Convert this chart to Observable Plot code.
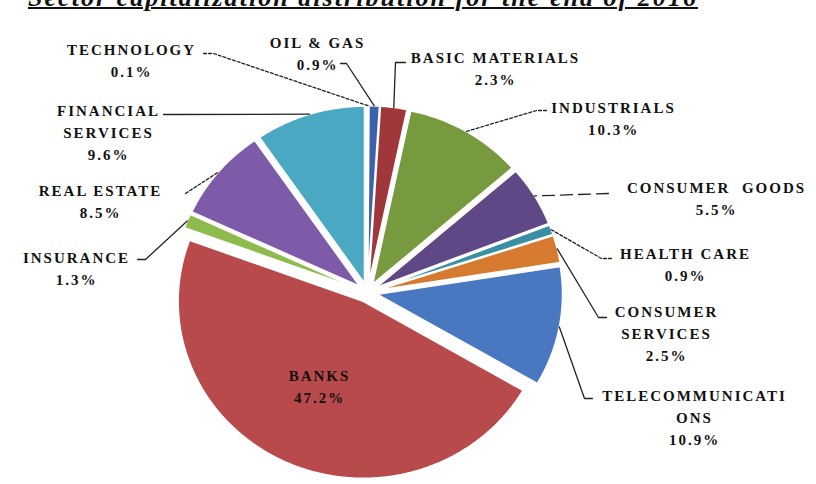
<!DOCTYPE html>
<html><head><meta charset="utf-8">
<script src="https://cdn.jsdelivr.net/npm/d3@7"></script>
<script src="https://cdn.jsdelivr.net/npm/@observablehq/plot@0.6"></script>
<style>
html,body{margin:0;padding:0;background:#fff;width:816px;height:484px;overflow:hidden}
#title{position:relative;height:14px}
#title span{position:absolute;left:28px;top:-15px;white-space:nowrap;font-style:italic;font-weight:bold;font-size:26px;line-height:26px;font-family:"Liberation Serif","DejaVu Serif",serif;color:#111;text-decoration:underline;text-decoration-thickness:2px;text-underline-offset:1px}
#chart svg{display:block}
#chart svg text{font-family:"Liberation Serif","DejaVu Serif",serif}
</style></head><body>
<div id="title"><span id="t">Sector capitalization distribution for the end of 2016</span></div>
<div id="chart"></div>
<script>
// ---- data ----
const sectors = ["TECHNOLOGY","OIL & GAS","BASIC MATERIALS","INDUSTRIALS","CONSUMER GOODS","HEALTH CARE","CONSUMER SERVICES","TELECOMMUNICATIONS","BANKS","INSURANCE","REAL ESTATE","FINANCIAL SERVICES"];
const shares = [0.1, 0.9, 2.3, 10.3, 5.5, 0.9, 2.5, 10.9, 47.2, 1.3, 8.5, 9.6];
const colors = ["#F2A04E","#3C62AE","#A0373A","#789A3E","#5F4885","#3A8FA5","#D67A30","#4A78C0","#B84A4B","#8DBB4E","#7E5BA8","#4AA8C2"];

// ---- layout (page pixels) : label block centre, display lines, leader start points, dash ----
const labelLayout = {
  "TECHNOLOGY":        {x:131, y:58.5, lines:["TECHNOLOGY"], leader:[[203,53],[213,53]], dash:"3,2"},
  "OIL & GAS":         {x:317, y:51,   lines:["OIL & GAS"], leader:[[340,63],[346,63]], dash:null},
  "BASIC MATERIALS":   {x:495, y:66.5, lines:["BASIC MATERIALS"], leader:[[405,62],[395,62]], dash:null},
  "INDUSTRIALS":       {x:613, y:116.5,lines:["INDUSTRIALS"], leader:[[546,110],[536,110]], dash:"3,2"},
  "CONSUMER GOODS":    {x:716, y:196,  lines:["CONSUMER  GOODS"], leader:[[608,193]], dash:"12,6"},
  "HEALTH CARE":       {x:685, y:262.5,lines:["HEALTH CARE"], leader:[[611,258],[601,258]], dash:"3,2"},
  "CONSUMER SERVICES": {x:666, y:331.5,lines:["CONSUMER","SERVICES"], leader:[[606,317],[598,317]], dash:null},
  "TELECOMMUNICATIONS":{x:694, y:415,  lines:["TELECOMMUNICATI","ONS"], leader:[[592,398],[584,398]], dash:null},
  "BANKS":             {x:319, y:384,  lines:["BANKS"], leader:null},
  "INSURANCE":         {x:76,  y:266.5,lines:["INSURANCE"], leader:[[137,259],[145,259]], dash:null},
  "REAL ESTATE":       {x:100, y:199,  lines:["REAL ESTATE"], leader:[[185,193]], dash:"3,2"},
  "FINANCIAL SERVICES":{x:108, y:130,  lines:["FINANCIAL","SERVICES"], leader:[[163,114]], dash:null}
};
const TOP = 14, CX = 367, CY = 292, RX = 185, RY = 177, EXPLODE = 0.055;
const ux = px => (px - CX) / RX;
const uy = py => (py - CY) / RY;

// ---- geometry from the data ----
const pie = d3.pie().sort(null).value(d => d.share).startAngle(0).endAngle(2 * Math.PI);
const rows = sectors.map((s, i) => ({sector: s, share: shares[i], color: colors[i]}));
const arcs = pie(rows).map(a => {
  const m = (a.startAngle + a.endAngle) / 2;
  const ox = EXPLODE * Math.sin(m), oy = -EXPLODE * Math.cos(m);
  const n = Math.max(2, Math.ceil((a.endAngle - a.startAngle) / 0.01));
  const pts = [{x: ox, y: oy}];
  for (let k = 0; k <= n; k++) {
    const t = a.startAngle + (a.endAngle - a.startAngle) * k / n;
    pts.push({x: ox + Math.sin(t), y: oy - Math.cos(t)});
  }
  return {...a.data, pts, end: {x: ox + Math.sin(m), y: oy - Math.cos(m)}};
});

const labels = arcs.map(a => {
  const L = labelLayout[a.sector];
  return {x: ux(L.x), y: uy(L.y), text: [...L.lines, a.share.toFixed(1) + "%"].join("\n")};
});
const leaders = arcs.filter(a => labelLayout[a.sector].leader).map(a => {
  const L = labelLayout[a.sector];
  return {dash: L.dash, pts: [...L.leader.map(([px, py]) => ({x: ux(px), y: uy(py)})), a.end]};
});

const marks = [
  ...arcs.map(a => Plot.line(a.pts, {x: "x", y: "y", fill: a.color, stroke: "white", strokeWidth: 1.5, curve: "linear-closed"})),
  ...leaders.map(l => Plot.line(l.pts, {x: "x", y: "y", stroke: "#222", strokeWidth: 1.3, strokeDasharray: l.dash || undefined})),
  Plot.text(labels, {x: "x", y: "y", text: "text", fontSize: 15, fontWeight: "bold", fontFamily: "Liberation Serif", fill: "#111", lineHeight: 1.47})
];

const chart = Plot.plot({
  width: 816, height: 470,
  x: {domain: [-1, 1], range: [CX - RX, CX + RX], axis: null},
  y: {domain: [-1, 1], range: [CY - TOP - RY, CY - TOP + RY], axis: null},
  style: {background: "white", letterSpacing: "2px", overflow: "visible", fontFamily: "Liberation Serif"},
  marks
});
document.getElementById("chart").append(chart);

// fit title to the width it spans in the reference
const t = document.getElementById("t");
const w = t.getBoundingClientRect().width;
t.style.letterSpacing = ((670 - w) / t.textContent.length) + "px";
</script>
</body></html>
